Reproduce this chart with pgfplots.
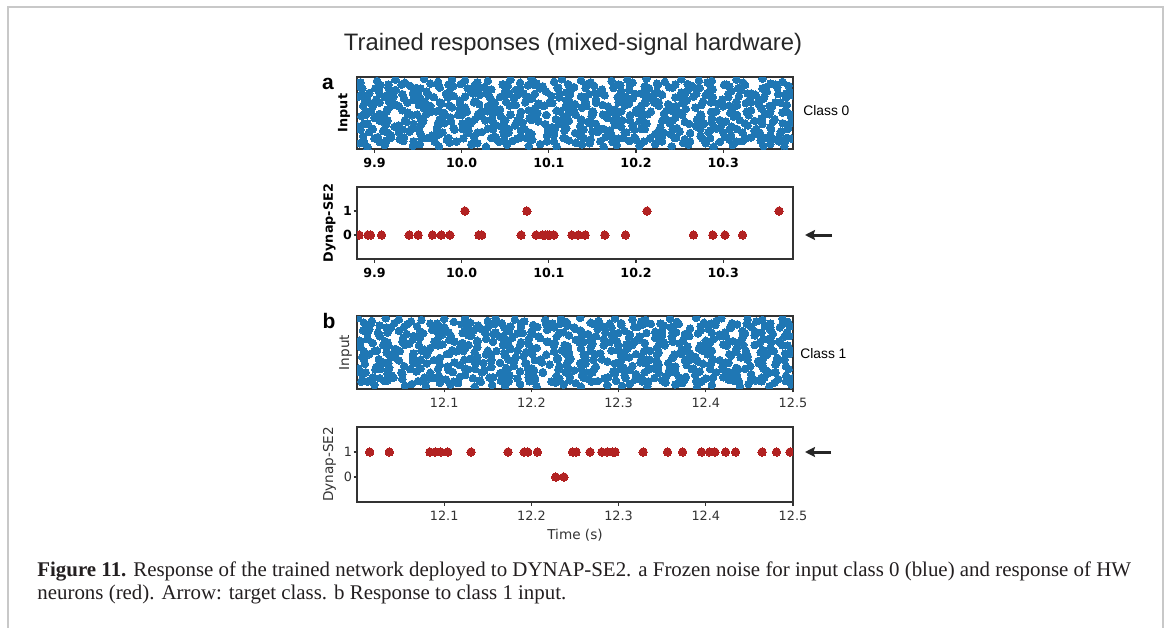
\documentclass[border=0pt]{standalone}
\usepackage{pgfplots}
\pgfplotsset{compat=1.18}
\usepackage{pgfplotstable}
\usetikzlibrary{arrows.meta}
\usepackage{fontspec}
\setmainfont{Liberation Serif}
\newfontfamily\hel{Liberation Sans}
\newfontfamily\dvs{DejaVu Sans}
\definecolor{tabblue}{HTML}{1F77B4}
\definecolor{hwred}{HTML}{B22222}
\definecolor{framegray}{HTML}{C8C8C8}
\definecolor{axgray}{HTML}{333333}
\definecolor{txt}{HTML}{231F20}
\newcommand\fs[1]{\fontsize{#1}{#1}\selectfont}

% input spikes, class 0 (panel a)
\pgfplotstableread{
t n
9.883 0.10
9.892 -0.30
9.906 0.25
9.912 -0.10
9.933 0.35
9.944 -0.20
9.952 0.00
9.969 0.30
9.974 -0.25
9.986 0.15
10.011 -0.05
10.018 0.10
10.028 -0.30
10.043 0.25
10.052 -0.10
10.058 0.35
10.077 -0.20
10.090 0.00
10.098 0.30
10.109 -0.25
10.131 0.15
10.138 -0.05
10.147 0.10
10.163 -0.30
10.173 0.25
10.178 -0.10
10.192 0.35
10.204 -0.20
10.222 0.00
10.230 0.30
10.241 -0.25
10.254 0.15
10.260 -0.05
10.280 0.10
10.289 -0.30
10.296 0.25
10.311 -0.10
10.322 0.35
10.346 -0.20
10.354 0.00
10.364 0.30
10.370 -0.25
9.887 0.90
9.894 1.35
9.904 0.80
9.919 1.00
9.928 1.30
9.934 0.75
9.953 1.15
9.966 0.95
9.974 1.10
9.985 0.70
10.007 1.25
10.014 0.90
10.023 1.35
10.039 0.80
10.049 1.00
10.054 1.30
10.068 0.75
10.080 1.15
10.098 0.95
10.106 1.10
10.117 0.70
10.130 1.25
10.136 0.90
10.156 1.35
10.165 0.80
10.172 1.00
10.187 1.30
10.198 0.75
10.222 1.15
10.230 0.95
10.240 1.10
10.246 0.70
10.262 1.25
10.274 0.90
10.283 1.35
10.302 0.80
10.309 1.00
10.322 1.30
10.332 0.75
10.337 1.15
10.354 0.95
10.365 1.10
10.373 0.70
9.881 2.00
9.888 2.30
9.897 1.75
9.913 2.15
9.923 1.95
9.928 2.10
9.942 1.70
9.954 2.25
9.972 1.90
9.980 2.35
9.991 1.80
10.004 2.00
10.010 2.30
10.030 1.75
10.039 2.15
10.046 1.95
10.061 2.10
10.072 1.70
10.096 2.25
10.104 1.90
10.114 2.35
10.120 1.80
10.136 2.00
10.148 2.30
10.157 1.75
10.176 2.15
10.183 1.95
10.196 2.10
10.206 1.70
10.211 2.25
10.228 1.90
10.239 2.35
10.247 1.80
10.269 2.00
10.278 2.30
10.292 1.75
10.298 2.15
10.310 1.95
10.328 2.10
10.338 1.70
10.345 2.25
10.354 1.90
10.368 2.35
10.374 1.80
9.885 3.15
9.900 2.95
9.911 3.10
9.935 2.70
9.943 3.25
9.953 2.90
9.959 3.35
9.975 2.80
9.987 3.00
9.996 3.30
10.015 2.75
10.022 3.15
10.035 2.95
10.045 3.10
10.050 2.70
10.067 3.25
10.078 2.90
10.086 3.35
10.108 2.80
10.117 3.00
10.131 3.30
10.137 2.75
10.149 3.15
10.167 2.95
10.177 3.10
10.184 2.70
10.193 3.25
10.207 2.90
10.213 3.35
10.234 2.80
10.245 3.00
10.253 3.30
10.270 2.75
10.275 3.15
10.287 2.95
10.312 3.10
10.319 2.70
10.329 3.25
10.344 2.90
10.353 3.35
10.359 2.80
10.378 3.00
9.890 3.70
9.898 4.25
9.915 3.90
9.920 4.35
9.932 3.80
9.957 4.00
9.964 4.30
9.974 3.75
9.989 4.15
9.998 3.95
10.004 4.10
10.023 3.70
10.036 4.25
10.044 3.90
10.055 4.35
10.077 3.80
10.084 4.00
10.093 4.30
10.109 3.75
10.119 4.15
10.124 3.95
10.138 4.10
10.150 3.70
10.168 4.25
10.176 3.90
10.187 4.35
10.200 3.80
10.206 4.00
10.226 4.30
10.235 3.75
10.242 4.15
10.257 3.95
10.268 4.10
10.292 3.70
10.300 4.25
10.310 3.90
10.316 4.35
10.332 3.80
10.344 4.00
10.353 4.30
10.372 3.75
9.882 5.35
9.889 4.80
9.902 5.00
9.912 5.30
9.917 4.75
9.934 5.15
9.945 4.95
9.953 5.10
9.975 4.70
9.984 5.25
9.998 4.90
10.004 5.35
10.016 4.80
10.034 5.00
10.044 5.30
10.051 4.75
10.060 5.15
10.074 4.95
10.080 5.10
10.101 4.70
10.112 5.25
10.120 4.90
10.137 5.35
10.142 4.80
10.154 5.00
10.179 5.30
10.186 4.75
10.196 5.15
10.211 4.95
10.220 5.10
10.226 4.70
10.245 5.25
10.258 4.90
10.266 5.35
10.277 4.80
10.299 5.00
10.306 5.30
10.315 4.75
10.331 5.15
10.341 4.95
10.346 5.10
10.360 4.70
10.372 5.25
9.886 6.30
9.894 5.75
9.905 6.15
9.918 5.95
9.924 6.10
9.944 5.70
9.953 6.25
9.960 5.90
9.975 6.35
9.986 5.80
10.010 6.00
10.018 6.30
10.028 5.75
10.034 6.15
10.050 5.95
10.062 6.10
10.071 5.70
10.090 6.25
10.097 5.90
10.110 6.35
10.120 5.80
10.125 6.00
10.142 6.30
10.153 5.75
10.161 6.15
10.183 5.95
10.192 6.10
10.206 5.70
10.212 6.25
10.224 5.90
10.242 6.35
10.252 5.80
10.259 6.00
10.268 6.30
10.282 5.75
10.288 6.15
10.309 5.95
10.320 6.10
10.328 5.70
10.345 6.25
10.350 5.90
10.362 6.35
10.376 5.80
9.884 6.95
9.903 7.10
9.916 6.70
9.924 7.25
9.935 6.90
9.957 7.35
9.964 6.80
9.973 7.00
9.989 7.30
9.999 6.75
10.004 7.15
10.018 6.95
10.030 7.10
10.048 6.70
10.056 7.25
10.067 6.90
10.080 7.35
10.086 6.80
10.106 7.00
10.115 7.30
10.122 6.75
10.137 7.15
10.148 6.95
10.172 7.10
10.180 6.70
10.190 7.25
10.196 6.90
10.212 7.35
10.224 6.80
10.233 7.00
10.252 7.30
10.259 6.75
10.272 7.15
10.282 6.95
10.287 7.10
10.304 6.70
10.315 7.25
10.323 6.90
10.345 7.35
10.354 6.80
10.368 7.00
}\rasterA

\pgfplotstableread{
t n
10.378 0.62
10.371 0.32
10.358 0.55
10.348 0.70
10.343 0.40
10.326 0.65
10.315 0.28
10.307 0.50
10.285 0.68
10.276 0.62
10.262 0.32
10.256 0.55
10.244 0.70
10.226 0.40
10.216 0.65
10.209 0.28
10.200 0.50
10.186 0.68
10.180 0.62
10.159 0.32
10.148 0.55
10.140 0.70
10.123 0.40
10.118 0.65
10.106 0.28
10.081 0.50
10.074 0.68
10.064 0.62
10.049 0.32
10.040 0.55
10.034 0.70
10.015 0.40
10.002 0.65
9.994 0.28
9.983 0.50
9.961 0.68
9.954 0.62
9.945 0.32
9.929 0.55
9.919 0.70
9.914 0.40
9.900 0.65
9.888 0.28
10.374 1.70
10.366 1.40
10.355 1.65
10.342 1.28
10.336 1.50
10.316 1.68
10.307 1.62
10.300 1.32
10.285 1.55
10.274 1.70
10.250 1.40
10.242 1.65
10.232 1.28
10.226 1.50
10.210 1.68
10.198 1.62
10.189 1.32
10.170 1.55
10.163 1.70
10.150 1.40
10.140 1.65
10.135 1.28
10.118 1.50
10.107 1.68
10.099 1.62
10.077 1.32
10.068 1.55
10.054 1.70
10.048 1.40
10.036 1.65
10.018 1.28
10.008 1.50
10.001 1.68
9.992 1.62
9.978 1.32
9.972 1.55
9.951 1.70
9.940 1.40
9.932 1.65
9.915 1.28
9.910 1.50
9.898 1.68
9.884 1.62
10.376 2.28
10.357 2.50
10.344 2.68
10.336 2.62
10.325 2.32
10.303 2.55
10.296 2.70
10.287 2.40
10.271 2.65
10.261 2.28
10.256 2.50
10.242 2.68
10.230 2.62
10.212 2.32
10.204 2.55
10.193 2.70
10.180 2.40
10.174 2.65
10.154 2.28
10.145 2.50
10.138 2.68
10.123 2.62
10.112 2.32
10.088 2.55
10.080 2.70
10.070 2.40
10.064 2.65
10.048 2.28
10.036 2.50
10.027 2.68
10.008 2.62
10.001 2.32
9.988 2.55
9.978 2.70
9.973 2.40
9.956 2.65
9.945 2.28
9.937 2.50
9.915 2.68
9.906 2.62
9.892 2.32
10.377 3.32
10.368 3.55
10.354 3.70
10.348 3.40
10.327 3.65
10.316 3.28
10.308 3.50
10.291 3.68
10.286 3.62
10.274 3.32
10.249 3.55
10.242 3.70
10.232 3.40
10.217 3.65
10.208 3.28
10.202 3.50
10.183 3.68
10.170 3.62
10.162 3.32
10.151 3.55
10.129 3.70
10.122 3.40
10.113 3.65
10.097 3.28
10.087 3.50
10.082 3.68
10.068 3.62
10.056 3.32
10.038 3.55
10.030 3.70
10.019 3.40
10.006 3.65
10.000 3.28
9.980 3.50
9.971 3.68
9.964 3.62
9.949 3.32
9.938 3.55
9.914 3.70
9.906 3.40
9.896 3.65
9.890 3.28
10.373 4.40
10.366 4.65
10.356 4.28
10.341 4.50
10.332 4.68
10.326 4.62
10.307 4.32
10.294 4.55
10.286 4.70
10.275 4.40
10.253 4.65
10.246 4.28
10.237 4.50
10.221 4.68
10.211 4.62
10.206 4.32
10.192 4.55
10.180 4.70
10.162 4.40
10.154 4.65
10.143 4.28
10.130 4.50
10.124 4.68
10.104 4.62
10.095 4.32
10.088 4.55
10.073 4.70
10.062 4.40
10.038 4.65
10.030 4.28
10.020 4.50
10.014 4.68
9.998 4.62
9.986 4.32
9.977 4.55
9.958 4.70
9.951 4.40
9.938 4.65
9.928 4.28
9.923 4.50
9.906 4.68
9.895 4.62
9.887 4.32
10.379 5.50
10.372 5.68
10.363 5.62
10.347 5.32
10.337 5.55
10.332 5.70
10.318 5.40
10.306 5.65
10.288 5.28
10.280 5.50
10.269 5.68
10.256 5.62
10.250 5.32
10.230 5.55
10.221 5.70
10.214 5.40
10.199 5.65
10.188 5.28
10.164 5.50
10.156 5.68
10.146 5.62
10.140 5.32
10.124 5.55
10.112 5.70
10.103 5.40
10.084 5.65
10.077 5.28
10.064 5.50
10.054 5.68
10.049 5.62
10.032 5.32
10.021 5.55
10.013 5.70
9.991 5.40
9.982 5.65
9.968 5.28
9.962 5.50
9.950 5.68
9.932 5.62
9.922 5.32
9.915 5.55
9.906 5.70
9.892 5.40
9.886 5.65
10.375 6.55
10.360 6.70
10.349 6.40
10.325 6.65
10.317 6.28
10.307 6.50
10.301 6.68
10.285 6.62
10.273 6.32
10.264 6.55
10.245 6.70
10.238 6.40
10.225 6.65
10.215 6.28
10.210 6.50
10.193 6.68
10.182 6.62
10.174 6.32
10.152 6.55
10.143 6.70
10.129 6.40
10.123 6.65
10.111 6.28
10.093 6.50
10.083 6.68
10.076 6.62
10.067 6.32
10.053 6.55
10.047 6.70
10.026 6.40
10.015 6.65
10.007 6.28
9.990 6.50
9.985 6.68
9.973 6.62
9.948 6.32
9.941 6.55
9.931 6.70
9.916 6.40
9.907 6.65
9.901 6.28
9.882 6.50
}\rasterAh

% input spikes, class 1 (panel b)
\pgfplotstableread{
t n
12.005 0.25
12.020 -0.10
12.031 0.35
12.055 -0.20
12.063 0.00
12.073 0.30
12.079 -0.25
12.095 0.15
12.107 -0.05
12.116 0.10
12.135 -0.30
12.142 0.25
12.155 -0.10
12.165 0.35
12.170 -0.20
12.187 0.00
12.198 0.30
12.206 -0.25
12.228 0.15
12.237 -0.05
12.251 0.10
12.257 -0.30
12.269 0.25
12.287 -0.10
12.297 0.35
12.304 -0.20
12.313 0.00
12.327 0.30
12.333 -0.25
12.354 0.15
12.365 -0.05
12.373 0.10
12.390 -0.30
12.395 0.25
12.407 -0.10
12.432 0.35
12.439 -0.20
12.449 0.00
12.464 0.30
12.473 -0.25
12.479 0.15
12.498 -0.05
12.010 1.30
12.018 0.75
12.035 1.15
12.040 0.95
12.052 1.10
12.077 0.70
12.084 1.25
12.094 0.90
12.109 1.35
12.118 0.80
12.124 1.00
12.143 1.30
12.156 0.75
12.164 1.15
12.175 0.95
12.197 1.10
12.204 0.70
12.213 1.25
12.229 0.90
12.239 1.35
12.244 0.80
12.258 1.00
12.270 1.30
12.288 0.75
12.296 1.15
12.307 0.95
12.320 1.10
12.326 0.70
12.346 1.25
12.355 0.90
12.362 1.35
12.377 0.80
12.388 1.00
12.412 1.30
12.420 0.75
12.430 1.15
12.436 0.95
12.452 1.10
12.464 0.70
12.473 1.25
12.492 0.90
12.002 1.70
12.009 2.25
12.022 1.90
12.032 2.35
12.037 1.80
12.054 2.00
12.065 2.30
12.073 1.75
12.095 2.15
12.104 1.95
12.118 2.10
12.124 1.70
12.136 2.25
12.154 1.90
12.164 2.35
12.171 1.80
12.180 2.00
12.194 2.30
12.200 1.75
12.221 2.15
12.232 1.95
12.240 2.10
12.257 1.70
12.262 2.25
12.274 1.90
12.299 2.35
12.306 1.80
12.316 2.00
12.331 2.30
12.340 1.75
12.346 2.15
12.365 1.95
12.378 2.10
12.386 1.70
12.397 2.25
12.419 1.90
12.426 2.35
12.435 1.80
12.451 2.00
12.461 2.30
12.466 1.75
12.480 2.15
12.492 1.95
12.006 3.00
12.014 3.30
12.025 2.75
12.038 3.15
12.044 2.95
12.064 3.10
12.073 2.70
12.080 3.25
12.095 2.90
12.106 3.35
12.130 2.80
12.138 3.00
12.148 3.30
12.154 2.75
12.170 3.15
12.182 2.95
12.191 3.10
12.210 2.70
12.217 3.25
12.230 2.90
12.240 3.35
12.245 2.80
12.262 3.00
12.273 3.30
12.281 2.75
12.303 3.15
12.312 2.95
12.326 3.10
12.332 2.70
12.344 3.25
12.362 2.90
12.372 3.35
12.379 2.80
12.388 3.00
12.402 3.30
12.408 2.75
12.429 3.15
12.440 2.95
12.448 3.10
12.465 2.70
12.470 3.25
12.482 2.90
12.496 3.35
12.004 4.10
12.023 3.70
12.036 4.25
12.044 3.90
12.055 4.35
12.077 3.80
12.084 4.00
12.093 4.30
12.109 3.75
12.119 4.15
12.124 3.95
12.138 4.10
12.150 3.70
12.168 4.25
12.176 3.90
12.187 4.35
12.200 3.80
12.206 4.00
12.226 4.30
12.235 3.75
12.242 4.15
12.257 3.95
12.268 4.10
12.292 3.70
12.300 4.25
12.310 3.90
12.316 4.35
12.332 3.80
12.344 4.00
12.353 4.30
12.372 3.75
12.379 4.15
12.392 3.95
12.402 4.10
12.407 3.70
12.424 4.25
12.435 3.90
12.443 4.35
12.465 3.80
12.474 4.00
12.488 4.30
12.003 4.80
12.012 5.00
12.026 5.30
12.032 4.75
12.053 5.15
12.064 4.95
12.072 5.10
12.089 4.70
12.094 5.25
12.106 4.90
12.131 5.35
12.138 4.80
12.148 5.00
12.163 5.30
12.172 4.75
12.178 5.15
12.197 4.95
12.210 5.10
12.218 4.70
12.229 5.25
12.251 4.90
12.258 5.35
12.267 4.80
12.283 5.00
12.293 5.30
12.298 4.75
12.312 5.15
12.324 4.95
12.342 5.10
12.350 4.70
12.361 5.25
12.374 4.90
12.380 5.35
12.400 4.80
12.409 5.00
12.416 5.30
12.431 4.75
12.442 5.15
12.466 4.95
12.474 5.10
12.484 4.70
12.490 5.25
12.007 5.95
12.014 6.10
12.024 5.70
12.039 6.25
12.048 5.90
12.054 6.35
12.073 5.80
12.086 6.00
12.094 6.30
12.105 5.75
12.127 6.15
12.134 5.95
12.143 6.10
12.159 5.70
12.169 6.25
12.174 5.90
12.188 6.35
12.200 5.80
12.218 6.00
12.226 6.30
12.237 5.75
12.250 6.15
12.256 5.95
12.276 6.10
12.285 5.70
12.292 6.25
12.307 5.90
12.318 6.35
12.342 5.80
12.350 6.00
12.360 6.30
12.366 5.75
12.382 6.15
12.394 5.95
12.403 6.10
12.422 5.70
12.429 6.25
12.442 5.90
12.452 6.35
12.457 5.80
12.474 6.00
12.485 6.30
12.493 5.75
12.001 7.35
12.008 6.80
12.017 7.00
12.033 7.30
12.043 6.75
12.048 7.15
12.062 6.95
12.074 7.10
12.092 6.70
12.100 7.25
12.111 6.90
12.124 7.35
12.130 6.80
12.150 7.00
12.159 7.30
12.166 6.75
12.181 7.15
12.192 6.95
12.216 7.10
12.224 6.70
12.234 7.25
12.240 6.90
12.256 7.35
12.268 6.80
12.277 7.00
12.296 7.30
12.303 6.75
12.316 7.15
12.326 6.95
12.331 7.10
12.348 6.70
12.359 7.25
12.367 6.90
12.389 7.35
12.398 6.80
12.412 7.00
12.418 7.30
12.430 6.75
12.448 7.15
12.458 6.95
12.465 7.10
12.474 6.70
12.488 7.25
12.494 6.90
}\rasterB

\pgfplotstableread{
t n
12.499 0.62
12.492 0.32
12.483 0.55
12.467 0.70
12.457 0.40
12.452 0.65
12.438 0.28
12.426 0.50
12.408 0.68
12.400 0.62
12.389 0.32
12.376 0.55
12.370 0.70
12.350 0.40
12.341 0.65
12.334 0.28
12.319 0.50
12.308 0.68
12.284 0.62
12.276 0.32
12.266 0.55
12.260 0.70
12.244 0.40
12.232 0.65
12.223 0.28
12.204 0.50
12.197 0.68
12.184 0.62
12.174 0.32
12.169 0.55
12.152 0.70
12.141 0.40
12.133 0.65
12.111 0.28
12.102 0.50
12.088 0.68
12.082 0.62
12.070 0.32
12.052 0.55
12.042 0.70
12.035 0.40
12.026 0.65
12.012 0.28
12.006 0.50
12.495 1.65
12.480 1.28
12.469 1.50
12.445 1.68
12.437 1.62
12.427 1.32
12.421 1.55
12.405 1.70
12.393 1.40
12.384 1.65
12.365 1.28
12.358 1.50
12.345 1.68
12.335 1.62
12.330 1.32
12.313 1.55
12.302 1.70
12.294 1.40
12.272 1.65
12.263 1.28
12.249 1.50
12.243 1.68
12.231 1.62
12.213 1.32
12.203 1.55
12.196 1.70
12.187 1.40
12.173 1.65
12.167 1.28
12.146 1.50
12.135 1.68
12.127 1.62
12.110 1.32
12.105 1.55
12.093 1.70
12.068 1.40
12.061 1.65
12.051 1.28
12.036 1.50
12.027 1.68
12.021 1.62
12.002 1.32
12.490 2.68
12.482 2.62
12.465 2.32
12.460 2.55
12.448 2.70
12.423 2.40
12.416 2.65
12.406 2.28
12.391 2.50
12.382 2.68
12.376 2.62
12.357 2.32
12.344 2.55
12.336 2.70
12.325 2.40
12.303 2.65
12.296 2.28
12.287 2.50
12.271 2.68
12.261 2.62
12.256 2.32
12.242 2.55
12.230 2.70
12.212 2.40
12.204 2.65
12.193 2.28
12.180 2.50
12.174 2.68
12.154 2.62
12.145 2.32
12.138 2.55
12.123 2.70
12.112 2.40
12.088 2.65
12.080 2.28
12.070 2.50
12.064 2.68
12.048 2.62
12.036 2.32
12.027 2.55
12.008 2.70
12.498 3.70
12.491 3.40
12.478 3.65
12.468 3.28
12.463 3.50
12.446 3.68
12.435 3.62
12.427 3.32
12.405 3.55
12.396 3.70
12.382 3.40
12.376 3.65
12.364 3.28
12.346 3.50
12.336 3.68
12.329 3.62
12.320 3.32
12.306 3.55
12.300 3.70
12.279 3.40
12.268 3.65
12.260 3.28
12.243 3.50
12.238 3.68
12.226 3.62
12.201 3.32
12.194 3.55
12.184 3.70
12.169 3.40
12.160 3.65
12.154 3.28
12.135 3.50
12.122 3.68
12.114 3.62
12.103 3.32
12.081 3.55
12.074 3.70
12.065 3.40
12.049 3.65
12.039 3.28
12.034 3.50
12.020 3.68
12.008 3.62
12.494 4.28
12.486 4.50
12.475 4.68
12.462 4.62
12.456 4.32
12.436 4.55
12.427 4.70
12.420 4.40
12.405 4.65
12.394 4.28
12.370 4.50
12.362 4.68
12.352 4.62
12.346 4.32
12.330 4.55
12.318 4.70
12.309 4.40
12.290 4.65
12.283 4.28
12.270 4.50
12.260 4.68
12.255 4.62
12.238 4.32
12.227 4.55
12.219 4.70
12.197 4.40
12.188 4.65
12.174 4.28
12.168 4.50
12.156 4.68
12.138 4.62
12.128 4.32
12.121 4.55
12.112 4.70
12.098 4.40
12.092 4.65
12.071 4.28
12.060 4.50
12.052 4.68
12.035 4.62
12.030 4.32
12.018 4.55
12.004 4.70
12.496 5.32
12.477 5.55
12.464 5.70
12.456 5.40
12.445 5.65
12.423 5.28
12.416 5.50
12.407 5.68
12.391 5.62
12.381 5.32
12.376 5.55
12.362 5.70
12.350 5.40
12.332 5.65
12.324 5.28
12.313 5.50
12.300 5.68
12.294 5.62
12.274 5.32
12.265 5.55
12.258 5.70
12.243 5.40
12.232 5.65
12.208 5.28
12.200 5.50
12.190 5.68
12.184 5.62
12.168 5.32
12.156 5.55
12.147 5.70
12.128 5.40
12.121 5.65
12.108 5.28
12.098 5.50
12.093 5.68
12.076 5.62
12.065 5.32
12.057 5.55
12.035 5.70
12.026 5.40
12.012 5.65
12.497 6.40
12.488 6.65
12.474 6.28
12.468 6.50
12.447 6.68
12.436 6.62
12.428 6.32
12.411 6.55
12.406 6.70
12.394 6.40
12.369 6.65
12.362 6.28
12.352 6.50
12.337 6.68
12.328 6.62
12.322 6.32
12.303 6.55
12.290 6.70
12.282 6.40
12.271 6.65
12.249 6.28
12.242 6.50
12.233 6.68
12.217 6.62
12.207 6.32
12.202 6.55
12.188 6.70
12.176 6.40
12.158 6.65
12.150 6.28
12.139 6.50
12.126 6.68
12.120 6.62
12.100 6.32
12.091 6.55
12.084 6.70
12.069 6.40
12.058 6.65
12.034 6.28
12.026 6.50
12.016 6.68
12.010 6.62
}\rasterBh

% hardware output spikes (panel a, class-0 input)
\pgfplotstableread{
t c
9.8824 0
9.8926 0
9.8955 0
9.9082 0
9.9398 0
9.9501 0
9.9665 0
9.9767 0
9.9866 0
10.0038 1
10.0198 0
10.0231 0
10.0682 0
10.0748 1
10.0854 0
10.0928 0
10.0957 0
10.0986 0
10.1010 0
10.1059 0
10.1265 0
10.1338 0
10.1416 0
10.1642 0
10.1880 0
10.2126 1
10.2659 0
10.2881 0
10.3020 0
10.3222 0
10.3640 1
}\hwA

% hardware output spikes (panel b, class-1 input)
\pgfplotstableread{
t c
12.0145 1
12.0371 1
12.0836 1
12.0897 1
12.0959 1
12.1041 1
12.1308 1
12.1732 1
12.1917 1
12.1958 1
12.2069 1
12.2279 0
12.2373 0
12.2472 1
12.2513 1
12.2673 1
12.2809 1
12.2871 1
12.2932 1
12.2961 1
12.3282 1
12.3561 1
12.3734 1
12.3952 1
12.4042 1
12.4104 1
12.4227 1
12.4342 1
12.4646 1
12.4811 1
12.4967 1
}\hwB

\pgfplotsset{
  panel/.style={
    scale only axis, width=218bp,
    tick pos=left, tick align=outside,
    major tick length=1.75bp,
    axis line style={axgray, line width=0.6bp},
    every tick/.style={axgray, line width=0.6bp},
    clip marker paths=true,
    xticklabel style={inner sep=0pt, yshift=-2.6bp},
    yticklabel style={inner sep=0pt, xshift=-0.6bp},
  },
  blue dots/.style={only marks, mark=*, mark size=1.9bp, color=tabblue, mark options={line width=0pt}},
  red dots/.style={only marks, mark=*, mark size=2.1bp, color=hwred, mark options={line width=0pt}},
}

\begin{document}
\begin{tikzpicture}
\path[use as bounding box] (0,0) rectangle (583.5bp,-314bp);
\fill[white] (0,0) rectangle (583.5bp,-314bp);
\draw[framegray, line width=1bp] (4bp,-314bp) -- (4bp,-3.5bp) -- (581.5bp,-3.5bp) -- (581.5bp,-314bp);

% ---- panel a, input ----
\begin{axis}[panel,
  at={(178.5bp,-38.5bp)}, anchor=north west, height=36bp,
  xmin=9.88, xmax=10.38, ymin=-0.55, ymax=7.55,
  ytick=\empty,
  xtick={9.9,10.0,10.1,10.2,10.3},
  xticklabels={9.9,10.0,10.1,10.2,10.3},
  xticklabel style={font=\dvs\bfseries\fs{6.3bp}, text=black},
  ylabel={Input},
  ylabel style={font=\dvs\bfseries\fs{6.4bp}, text=black, at={(axis description cs:-0.03,0.5)}, anchor=center},
]
\addplot[blue dots] table[x=t, y=n] {\rasterA};
\addplot[blue dots] table[x=t, y=n] {\rasterAh};
\end{axis}

% ---- panel a, hardware ----
\begin{axis}[panel,
  at={(178.5bp,-93.5bp)}, anchor=north west, height=36bp,
  xmin=9.88, xmax=10.38, ymin=-1, ymax=2,
  ytick={0,1}, yticklabels={0,1},
  xtick={9.9,10.0,10.1,10.2,10.3},
  xticklabels={9.9,10.0,10.1,10.2,10.3},
  xticklabel style={font=\dvs\bfseries\fs{6.3bp}, text=black},
  yticklabel style={font=\dvs\bfseries\fs{6.3bp}, text=black},
  ylabel={Dynap-SE2},
  ylabel style={font=\dvs\bfseries\fs{6.4bp}, text=black, at={(axis description cs:-0.063,0.5)}, anchor=center},
]
\addplot[red dots] table[x=t, y=c] {\hwA};
\end{axis}

% ---- panel b, input ----
\begin{axis}[panel,
  at={(178.5bp,-158bp)}, anchor=north west, height=36.5bp,
  xmin=12.0, xmax=12.5, ymin=-0.55, ymax=7.55,
  ytick=\empty,
  xtick={12.1,12.2,12.3,12.4,12.5},
  xticklabels={12.1,12.2,12.3,12.4,12.5},
  xticklabel style={font=\dvs\fs{6.4bp}, text=axgray},
  ylabel={Input},
  ylabel style={font=\dvs\fs{6.8bp}, text=axgray, at={(axis description cs:-0.026,0.5)}, anchor=center},
]
\addplot[blue dots] table[x=t, y=n] {\rasterB};
\addplot[blue dots] table[x=t, y=n] {\rasterBh};
\end{axis}

% ---- panel b, hardware ----
\begin{axis}[panel,
  at={(178.5bp,-213.5bp)}, anchor=north west, height=37.5bp,
  xmin=12.0, xmax=12.5, ymin=-1, ymax=2,
  ytick={0,1}, yticklabels={0,1},
  xtick={12.1,12.2,12.3,12.4,12.5},
  xticklabels={12.1,12.2,12.3,12.4,12.5},
  xticklabel style={font=\dvs\fs{6.4bp}, text=axgray},
  yticklabel style={font=\dvs\fs{6.4bp}, text=axgray},
  ylabel={Dynap-SE2},
  ylabel style={font=\dvs\fs{6.8bp}, text=axgray, at={(axis description cs:-0.063,0.5)}, anchor=center},
  xlabel={Time (s)},
  xlabel style={font=\dvs\fs{6.8bp}, text=axgray, at={(axis description cs:0.5,-0.44)}, anchor=center},
]
\addplot[red dots] table[x=t, y=c] {\hwB};
\end{axis}

% ---- titles, labels, arrows ----
\node[font=\hel\fs{11.9bp}, text=black!85, inner sep=0] at (286.5bp,-22bp) {Trained responses (mixed-signal hardware)};
\node[font=\hel\bfseries\fs{10.5bp}, text=black, inner sep=0] at (164bp,-42bp) {a};
\node[font=\hel\bfseries\fs{10.5bp}, text=black, inner sep=0] at (164.5bp,-160.5bp) {b};
\node[font=\hel\fs{6.9bp}, text=black, inner sep=0, anchor=west] at (401.5bp,-55.5bp) {Class 0};
\node[font=\hel\fs{6.9bp}, text=black, inner sep=0, anchor=west] at (400bp,-177bp) {Class 1};
\draw[-{Stealth[length=5bp,width=5bp,inset=0.8bp]}, line width=1.5bp, black!85] (416bp,-117.5bp) -- (402.5bp,-117.5bp);
\draw[-{Stealth[length=5bp,width=5bp,inset=0.8bp]}, line width=1.5bp, black!85] (415.5bp,-226bp) -- (402.5bp,-226bp);

% ---- caption ----
\node[anchor=base west, inner sep=0, font=\fs{10.45bp}, text=txt] at (18.5bp,-288bp)
  {\textbf{Figure 11.} Response of the trained network deployed to DYNAP-SE2. a Frozen noise for input class 0 (blue) and response of HW};
\node[anchor=base west, inner sep=0, font=\fs{10.45bp}, text=txt] at (18.5bp,-299.5bp)
  {neurons (red). Arrow: target class. b Response to class 1 input.};
\end{tikzpicture}
\end{document}
